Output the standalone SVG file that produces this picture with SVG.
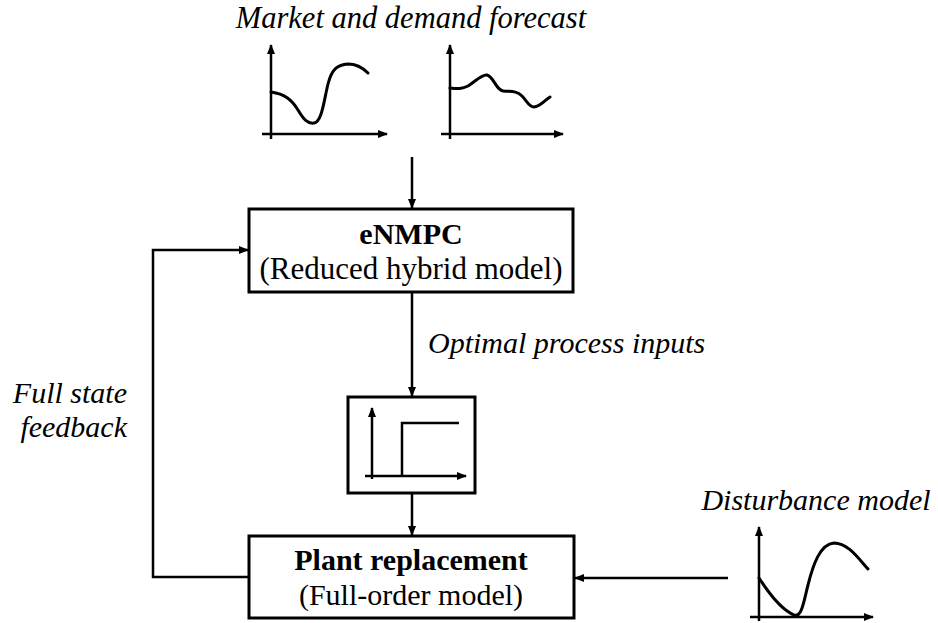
<svg xmlns="http://www.w3.org/2000/svg" width="938" height="623" viewBox="0 0 938 623">
<defs>
<marker id="ah" markerWidth="10" markerHeight="8" refX="9" refY="4" orient="auto" markerUnits="userSpaceOnUse">
<path d="M0,0 L10,4 L0,8 Z" fill="#000"/>
</marker>
<style>
.box{fill:#fff;stroke:#000;stroke-width:3}
.ln{fill:none;stroke:#000;stroke-width:2.5}
.cv{fill:none;stroke:#000;stroke-width:3;stroke-linecap:round}
.t{font-family:"Liberation Serif","Times New Roman",serif;font-size:30px;fill:#000}
.b{font-weight:bold}
.i{font-style:italic}
</style>
</defs>
<rect width="938" height="623" fill="#fff"/>

<g id="forecast">
<text class="t i" x="411" y="28" text-anchor="middle" style="font-size:30.5px">Market and demand forecast</text>
<path class="ln" d="M271,139 V45" marker-end="url(#ah)"/>
<path class="ln" d="M262,134 H387" marker-end="url(#ah)"/>
<path class="cv" d="M271,92 C285,94 292,100 298,110 C304,120 308,124 314,123 C322,122 324,100 328,84 C332,68 338,65 348,64 C358,64 364,69 368,73"/>
<path class="ln" d="M450,139 V45" marker-end="url(#ah)"/>
<path class="ln" d="M441,134 H563" marker-end="url(#ah)"/>
<path class="cv" d="M450,88 C458,89 462,89 468,86 C476,81 482,74 487,75 C494,77 496,90 503,91 C510,92 516,90 522,96 C527,101 529,107 534,107 C540,107 545,100 550,97"/>
</g>

<g id="enmpc">
<rect class="box" x="249" y="209" width="324" height="83"/>
<text class="t b" x="411" y="244" text-anchor="middle">eNMPC</text>
<text class="t" x="411" y="279" text-anchor="middle" style="font-size:31px">(Reduced hybrid model)</text>
</g>

<g id="step">
<rect class="box" x="348" y="397" width="127" height="96"/>
<path class="ln" d="M372,479 V408" marker-end="url(#ah)"/>
<path class="ln" d="M365,476 H466" marker-end="url(#ah)"/>
<path class="ln" d="M402,476 V423 H459"/>
</g>

<g id="plant">
<rect class="box" x="249" y="536" width="325" height="82"/>
<text class="t b" x="411" y="570" text-anchor="middle">Plant replacement</text>
<text class="t" x="411" y="605" text-anchor="middle">(Full-order model)</text>
</g>

<g id="disturbance">
<text class="t i" x="816" y="510" text-anchor="middle">Disturbance model</text>
<path class="ln" d="M759,621 V527" marker-end="url(#ah)"/>
<path class="ln" d="M750,617 H873" marker-end="url(#ah)"/>
<path class="cv" d="M759,578 C768,592 782,610 794,615 C802,618 804,600 808,585 C813,565 820,544 834,543 C848,543 858,558 868,569"/>
</g>

<g id="connectors">
<path class="ln" d="M412,157 V208" marker-end="url(#ah)"/>
<path class="ln" d="M412,292 V396" marker-end="url(#ah)"/>
<path class="ln" d="M412,493 V535" marker-end="url(#ah)"/>
<path class="ln" d="M249,577 H153 V250 H248" marker-end="url(#ah)"/>
<path class="ln" d="M728,578 H575" marker-end="url(#ah)"/>
<text class="t i" x="428" y="353">Optimal process inputs</text>
<text class="t i" x="127" y="403" text-anchor="end">Full state</text>
<text class="t i" x="127" y="437" text-anchor="end">feedback</text>
</g>
</svg>
